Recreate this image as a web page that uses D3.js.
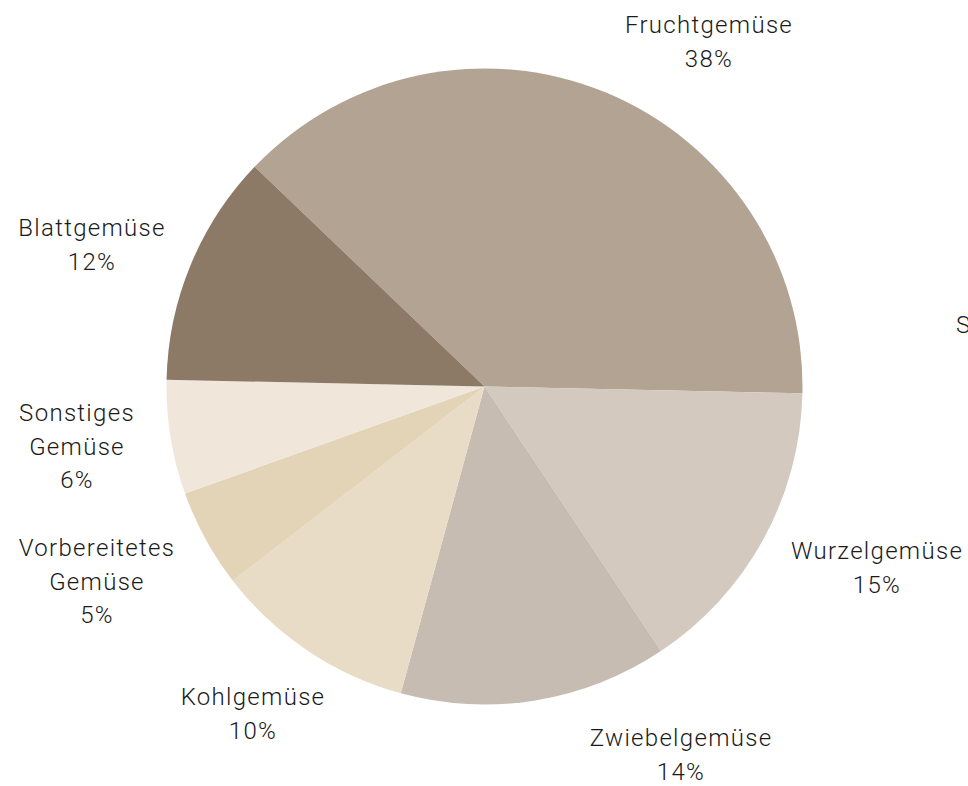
<!DOCTYPE html>
<html><head><meta charset="utf-8">
<script src="https://cdn.jsdelivr.net/npm/d3@7"></script>
<style>
html,body{margin:0;padding:0;background:#fff;overflow:hidden;}
svg text{font-family:Roboto,"Open Sans",sans-serif;font-weight:300;fill:#1a1a1a;}
</style></head>
<body>
<svg id="chart" width="968" height="786"></svg>
<script>
const categories = ["Fruchtgemüse","Wurzelgemüse","Zwiebelgemüse","Kohlgemüse","Vorbereitetes Gemüse","Sonstiges Gemüse","Blattgemüse"];
const values = [38.2, 15.3, 13.6, 10.3, 5.0, 5.8, 11.8];
const labelLines = [["Fruchtgemüse"],["Wurzelgemüse"],["Zwiebelgemüse"],["Kohlgemüse"],["Vorbereitetes","Gemüse"],["Sonstiges","Gemüse"],["Blattgemüse"]];
const colors = ["#b3a393","#d3c9bf","#c6bcb2","#e8dcc6","#e3d3b7","#f0e6da","#8c7966"];

// label anchor positions (layout only)
const labelPos = [[709,25],[877,551],[681,738],[253,697],[97,548],[77,413],[92,228]];

const svg = d3.select("#chart");
const cx = 484.5, cy = 386.5, R = 318;
const startDeg = -46.3;
const pie = d3.pie().sort(null).value(d => d)
  .startAngle(startDeg*Math.PI/180).endAngle((startDeg+360)*Math.PI/180);
const arc = d3.arc().innerRadius(0).outerRadius(R);
const color = d3.scaleOrdinal().domain(categories).range(colors);

const g = svg.append("g").attr("transform",`translate(${cx},${cy})`);
g.selectAll("path").data(pie(values)).join("path")
  .attr("d", arc)
  .attr("fill", (d,i) => color(categories[i]));

const lh = 33.5;
const labels = svg.append("g");
categories.forEach((c,i) => {
  const lines = labelLines[i].concat([Math.round(values[i]) + "%"]);
  const t = labels.append("text")
    .attr("text-anchor","middle")
    .attr("font-size", 24)
    .attr("letter-spacing", 1.3);
  lines.forEach((ln,j) => {
    t.append("tspan").attr("x", labelPos[i][0]).attr("y", labelPos[i][1] + j*lh)
      .attr("dominant-baseline","central").text(ln);
  });
});
// partially visible label at the right edge (cut off in the reference too)
svg.append("text").attr("x", 956).attr("y", 325).attr("font-size",24)
  .attr("dominant-baseline","central").text("S");
</script>
</body></html>
